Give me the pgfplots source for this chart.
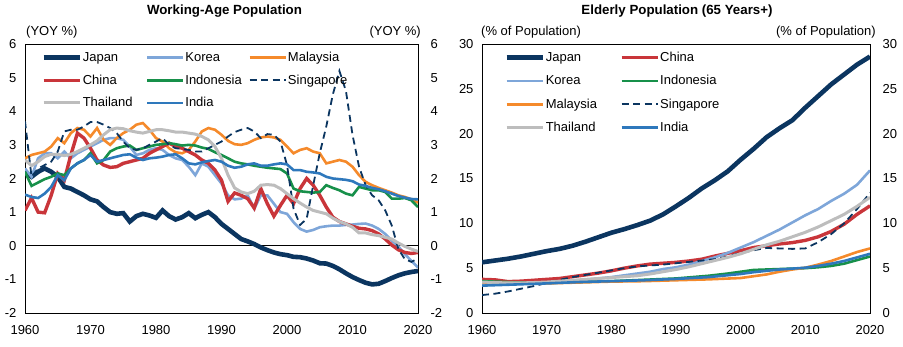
\documentclass[border=0pt]{standalone}
\usepackage{pgfplots}
\pgfplotsset{compat=1.18}
\usepackage{pgfplotstable}
\usepackage{fontspec}
\setmainfont{Liberation Sans}
\definecolor{cJP}{HTML}{0B3560}
\definecolor{cKR}{HTML}{7EA6D9}
\definecolor{cMY}{HTML}{F58A2B}
\definecolor{cCN}{HTML}{C9353A}
\definecolor{cID}{HTML}{17904A}
\definecolor{cSG}{HTML}{0B3560}
\definecolor{cTH}{HTML}{BDBDBD}
\definecolor{cIN}{HTML}{2E78BC}

\pgfplotstableread{
year jp kr my cn id sg th in
1960 2.2 2.3 2.6 1.05 2.2 3.7 2.55 1.52
1961 2.05 2.05 2.7 1.42 1.78 2.05 2.38 1.45
1962 2.2 2.6 2.75 1.0 1.88 2.3 2.5 1.42
1963 2.3 2.75 2.8 0.98 1.98 2.4 2.65 1.55
1964 2.2 2.75 2.95 1.5 2.05 2.5 2.72 1.75
1965 2.05 2.6 3.2 2.15 2.15 2.8 2.72 2.1
1966 1.75 2.8 3.05 1.95 2.1 3.4 2.68 1.95
1967 1.7 2.6 3.35 2.7 2.3 3.45 2.72 2.3
1968 1.6 2.75 3.5 3.35 2.45 3.45 2.8 2.45
1969 1.5 2.85 3.45 3.2 2.55 3.55 2.9 2.55
1970 1.38 2.95 3.25 2.9 2.75 3.68 3.0 2.7
1971 1.32 3.05 3.5 2.55 2.45 3.68 3.12 2.5
1972 1.15 3.15 3.15 2.4 2.55 3.6 3.3 2.55
1973 1.0 3.2 3.0 2.33 2.8 3.5 3.45 2.6
1974 0.95 3.2 3.2 2.35 2.9 3.35 3.5 2.65
1975 0.97 3.15 3.35 2.45 2.95 3.1 3.48 2.7
1976 0.72 2.95 3.45 2.5 2.98 2.9 3.42 2.72
1977 0.88 2.7 3.6 2.55 2.85 2.85 3.38 2.62
1978 0.95 2.75 3.65 2.6 2.9 2.9 3.35 2.55
1979 0.9 2.85 3.45 2.75 2.95 3.0 3.4 2.6
1980 0.83 2.9 3.2 2.85 3.0 3.1 3.45 2.62
1981 1.05 2.85 3.1 2.95 3.02 3.2 3.45 2.65
1982 0.88 2.7 2.9 3.05 3.05 3.0 3.42 2.7
1983 0.78 2.6 2.78 2.95 3.02 2.9 3.38 2.72
1984 0.85 2.55 2.75 2.9 2.98 2.88 3.38 2.6
1985 0.97 2.35 2.85 2.8 3.0 2.85 3.35 2.45
1986 0.82 2.1 3.1 2.7 2.98 2.8 3.32 2.42
1987 0.92 2.45 3.4 2.55 2.92 2.8 3.25 2.48
1988 1.0 2.35 3.5 2.45 2.88 2.9 3.15 2.52
1989 0.85 2.1 3.45 2.25 2.78 3.0 2.95 2.55
1990 0.65 1.85 3.3 1.95 2.7 3.1 2.6 2.5
1991 0.5 1.5 3.12 1.32 2.6 3.25 2.1 2.38
1992 0.35 1.38 3.02 1.57 2.5 3.38 1.72 2.32
1993 0.2 1.4 3.0 1.5 2.45 3.45 1.6 2.35
1994 0.13 1.5 3.05 1.4 2.42 3.5 1.55 2.42
1995 0.05 1.1 3.15 1.12 2.38 3.4 1.62 2.45
1996 -0.05 1.5 3.22 1.7 2.35 3.2 1.8 2.38
1997 -0.13 1.5 3.25 1.25 2.32 3.32 1.82 2.38
1998 -0.2 1.25 3.22 0.88 2.3 3.3 1.8 2.42
1999 -0.25 1.0 3.15 1.2 2.28 3.1 1.7 2.45
2000 -0.28 0.95 2.95 1.5 2.15 2.4 1.55 2.42
2001 -0.33 0.7 2.75 1.25 1.7 1.1 1.4 2.25
2002 -0.34 0.5 2.85 1.7 1.62 0.62 1.27 2.25
2003 -0.38 0.42 2.9 2.0 1.6 0.8 1.15 2.2
2004 -0.44 0.47 2.8 1.8 1.58 1.8 1.05 2.18
2005 -0.52 0.55 2.75 1.5 1.6 2.75 1.0 2.15
2006 -0.53 0.58 2.45 1.15 1.8 3.55 0.95 2.05
2007 -0.6 0.6 2.5 0.85 1.72 4.5 0.82 2.0
2008 -0.7 0.6 2.55 0.72 1.65 5.2 0.72 1.98
2009 -0.82 0.62 2.5 0.65 1.55 4.6 0.65 1.96
2010 -0.93 0.63 2.35 0.58 1.5 3.3 0.55 1.92
2011 -1.02 0.65 2.1 0.52 1.75 2.35 0.38 1.82
2012 -1.1 0.66 1.9 0.5 1.7 1.8 0.38 1.78
2013 -1.15 0.6 1.8 0.45 1.65 1.5 0.33 1.72
2014 -1.13 0.5 1.72 0.35 1.65 1.35 0.3 1.68
2015 -1.05 0.35 1.65 0.2 1.6 1.05 0.25 1.62
2016 -0.96 0.15 1.58 0.02 1.4 0.6 0.2 1.55
2017 -0.88 -0.02 1.5 -0.12 1.4 -0.1 0.08 1.48
2018 -0.82 -0.25 1.45 -0.2 1.42 -0.4 -0.02 1.43
2019 -0.78 -0.45 1.38 -0.23 1.35 -0.48 -0.1 1.39
2020 -0.75 -0.65 1.28 -0.2 1.15 -0.38 -0.17 1.38
}\wap

\pgfplotsset{
  panel/.style={
    scale only axis, height=269pt, clip mode=individual,
    xmin=1960, xmax=2020, xtick={1960,1970,...,2020},
    axis line style={black, line width=0.9pt},
    major tick length=0pt, tick style={draw=none},
    tick label style={font=\fontsize{13}{15}\selectfont},
    /pgf/number format/assume math mode=true,
    xticklabel style={/pgf/number format/1000 sep={}, yshift=-9pt},
    yticklabel style={xshift=-5pt},
    legend cell align=left,
    legend image code/.code={\draw[##1] (0pt,0pt) -- (36pt,0pt);},
  },
  rightlab/.style={
    scale only axis, height=269pt,
    xmin=1960, xmax=2020, hide x axis,
    axis y line*=right, axis line style={draw=none},
    major tick length=0pt, tick style={draw=none},
    tick label style={font=\fontsize{13}{15}\selectfont},
    /pgf/number format/assume math mode=true,
    yticklabel style={xshift=9pt},
  },
  lJP/.style={cJP, line width=4.6pt},
  lKR/.style={cKR, line width=2.6pt},
  lMY/.style={cMY, line width=2.6pt},
  lCN/.style={cCN, line width=3.4pt},
  lID/.style={cID, line width=2.6pt},
  lSG/.style={cSG, line width=1.8pt, dash pattern=on 7pt off 4.5pt},
  lTH/.style={cTH, line width=3pt},
  lIN/.style={cIN, line width=2.6pt},
}

\begin{document}
\begin{tikzpicture}
\useasboundingbox (0,0) rectangle (903pt,347pt);

% ---------------- Left panel ----------------
\begin{axis}[panel, at={(25pt,34pt)}, anchor=south west, width=393pt,
  ymin=-2, ymax=6, ytick={-2,-1,...,6},
  extra y ticks={0}, extra y tick labels={},
  extra y tick style={grid=major, major grid style={black, line width=0.8pt}},
  legend columns=3,
  legend style={draw=none, fill=none, at={(rel axis cs:0,1)}, anchor=north west,
    xshift=16pt, yshift=-6pt, inner sep=0pt, row sep=7.7pt,
    nodes={inner xsep=1pt, inner ysep=2pt},
    font=\fontsize{13}{15}\selectfont,
    /tikz/every odd column/.append style={column sep=0pt}},
]
\addplot[lJP] table[x=year,y=jp]{\wap}; \addlegendentry{\makebox[62pt][l]{Japan}}
\addplot[lKR] table[x=year,y=kr]{\wap}; \addlegendentry{\makebox[62pt][l]{Korea}}
\addplot[lMY] table[x=year,y=my]{\wap}; \addlegendentry{\makebox[62pt][l]{Malaysia}}
\addplot[lCN] table[x=year,y=cn]{\wap}; \addlegendentry{\makebox[62pt][l]{China}}
\addplot[lID] table[x=year,y=id]{\wap}; \addlegendentry{\makebox[62pt][l]{Indonesia}}
\addplot[lSG] table[x=year,y=sg]{\wap}; \addlegendentry{\makebox[62pt][l]{Singapore}}
\addplot[lTH] table[x=year,y=th]{\wap}; \addlegendentry{\makebox[62pt][l]{Thailand}}
\addplot[lIN] table[x=year,y=in]{\wap}; \addlegendentry{\makebox[62pt][l]{India}}
\node[font=\bfseries\fontsize{13.3}{15}\selectfont, anchor=base] at (rel axis cs:0.5,1) [yshift=29pt, xshift=3pt] {Working-Age Population};
\node[font=\fontsize{13}{15}\selectfont, anchor=base west, inner sep=0pt] at (rel axis cs:0,1) [yshift=8.5pt, xshift=1pt] {(YOY \%)};
\node[font=\fontsize{13}{15}\selectfont, anchor=base east, inner sep=0pt] at (rel axis cs:1,1) [yshift=8.5pt, xshift=3pt] {(YOY \%)};
\end{axis}
\begin{axis}[rightlab, at={(25pt,34pt)}, anchor=south west, width=393pt,
  ymin=-2, ymax=6, ytick={-2,-1,...,6}]
\addplot[draw=none] coordinates {(1960,0)};
\end{axis}

% ---------------- Right panel ----------------
\begin{axis}[panel, at={(482pt,34pt)}, anchor=south west, width=388pt,
  ymin=0, ymax=30, ytick={0,5,...,30},
  legend columns=2,
  legend style={draw=none, fill=none, at={(rel axis cs:0,1)}, anchor=north west,
    xshift=22pt, yshift=-6pt, inner sep=0pt, row sep=8.4pt,
    nodes={inner xsep=1pt, inner ysep=2pt},
    font=\fontsize{13}{15}\selectfont,
    /tikz/every odd column/.append style={column sep=0pt}},
]
\addplot[lJP] coordinates {(1960,5.65) (1962,5.85) (1964,6.05) (1966,6.3) (1968,6.6) (1970,6.9) (1972,7.15) (1974,7.5) (1976,7.95) (1978,8.45) (1980,8.95) (1982,9.35) (1984,9.8) (1986,10.3) (1988,11.0) (1990,11.9) (1992,12.85) (1994,13.9) (1996,14.8) (1998,15.8) (2000,17.1) (2002,18.3) (2004,19.6) (2006,20.6) (2008,21.5) (2010,22.9) (2012,24.2) (2014,25.5) (2016,26.6) (2018,27.7) (2020,28.6)};
\addlegendentry{\makebox[73pt][l]{Japan}}
\addplot[lCN] coordinates {(1960,3.75) (1962,3.7) (1964,3.5) (1966,3.55) (1968,3.65) (1970,3.75) (1972,3.85) (1974,4.05) (1976,4.25) (1978,4.45) (1980,4.7) (1982,5.0) (1984,5.25) (1986,5.45) (1988,5.55) (1990,5.65) (1992,5.8) (1994,6.0) (1996,6.35) (1998,6.65) (2000,6.95) (2002,7.3) (2004,7.5) (2006,7.7) (2008,7.85) (2010,8.1) (2012,8.5) (2014,9.1) (2016,9.9) (2018,11.0) (2020,11.95)};
\addlegendentry{\makebox[73pt][l]{China}}
\addplot[lKR] coordinates {(1960,3.2) (1962,3.25) (1964,3.3) (1966,3.3) (1968,3.35) (1970,3.4) (1972,3.5) (1974,3.6) (1976,3.7) (1978,3.85) (1980,4.0) (1982,4.2) (1984,4.4) (1986,4.6) (1988,4.9) (1990,5.1) (1992,5.4) (1994,5.8) (1996,6.2) (1998,6.7) (2000,7.3) (2002,7.9) (2004,8.6) (2006,9.3) (2008,10.1) (2010,10.9) (2012,11.6) (2014,12.5) (2016,13.3) (2018,14.3) (2020,15.9)};
\addlegendentry{\makebox[73pt][l]{Korea}}
\addplot[lID] coordinates {(1960,3.55) (1962,3.5) (1964,3.45) (1966,3.4) (1970,3.35) (1975,3.45) (1980,3.55) (1985,3.7) (1990,3.85) (1995,4.15) (1998,4.4) (2000,4.6) (2002,4.8) (2004,4.85) (2006,4.9) (2008,4.95) (2010,5.0) (2012,5.1) (2014,5.25) (2016,5.5) (2018,5.9) (2020,6.3)};
\addlegendentry{\makebox[73pt][l]{Indonesia}}
\addplot[lMY] coordinates {(1960,3.4) (1964,3.35) (1968,3.3) (1970,3.3) (1975,3.4) (1980,3.5) (1985,3.55) (1990,3.65) (1995,3.75) (2000,3.9) (2002,4.1) (2004,4.3) (2006,4.6) (2008,4.85) (2010,5.05) (2012,5.4) (2014,5.8) (2016,6.3) (2018,6.8) (2020,7.2)};
\addlegendentry{\makebox[73pt][l]{Malaysia}}
\addplot[lSG] coordinates {(1960,2.0) (1962,2.15) (1964,2.4) (1966,2.7) (1968,3.0) (1970,3.35) (1972,3.7) (1974,4.0) (1976,4.25) (1978,4.5) (1980,4.75) (1982,5.0) (1984,5.2) (1986,5.3) (1988,5.4) (1990,5.55) (1992,5.7) (1994,5.85) (1996,6.0) (1998,6.3) (2000,6.7) (2002,7.0) (2004,7.25) (2006,7.2) (2008,7.15) (2010,7.2) (2012,7.9) (2014,8.8) (2016,10.0) (2018,11.6) (2020,13.4)};
\addlegendentry{\makebox[73pt][l]{Singapore}}
\addplot[lTH] coordinates {(1960,3.45) (1962,3.4) (1964,3.35) (1966,3.35) (1968,3.4) (1970,3.45) (1972,3.55) (1974,3.65) (1976,3.75) (1978,3.85) (1980,3.95) (1982,4.05) (1984,4.15) (1986,4.35) (1988,4.6) (1990,4.85) (1992,5.15) (1994,5.5) (1996,5.85) (1998,6.2) (2000,6.6) (2002,7.1) (2004,7.6) (2006,8.0) (2008,8.5) (2010,9.0) (2012,9.6) (2014,10.3) (2016,11.0) (2018,11.9) (2020,12.9)};
\addlegendentry{\makebox[73pt][l]{Thailand}}
\addplot[lIN] coordinates {(1960,3.05) (1962,3.1) (1964,3.15) (1966,3.2) (1970,3.3) (1975,3.45) (1980,3.55) (1985,3.65) (1990,3.8) (1995,4.0) (2000,4.35) (2002,4.55) (2004,4.7) (2006,4.85) (2008,4.95) (2010,5.05) (2012,5.25) (2014,5.5) (2016,5.8) (2018,6.2) (2020,6.6)};
\addlegendentry{\makebox[73pt][l]{India}}
\node[font=\bfseries\fontsize{13.3}{15}\selectfont, anchor=base] at (rel axis cs:0.5,1) [yshift=29pt, xshift=1pt] {Elderly Population (65 Years+)};
\node[font=\fontsize{13}{15}\selectfont, anchor=base west, inner sep=0pt] at (rel axis cs:0,1) [yshift=8.5pt, xshift=-1pt] {(\% of Population)};
\node[font=\fontsize{13}{15}\selectfont, anchor=base east, inner sep=0pt] at (rel axis cs:1,1) [yshift=8.5pt, xshift=6pt] {(\% of Population)};
\end{axis}
\begin{axis}[rightlab, at={(482pt,34pt)}, anchor=south west, width=388pt,
  ymin=0, ymax=30, ytick={0,5,...,30}]
\addplot[draw=none] coordinates {(1960,0)};
\end{axis}
\end{tikzpicture}
\end{document}
